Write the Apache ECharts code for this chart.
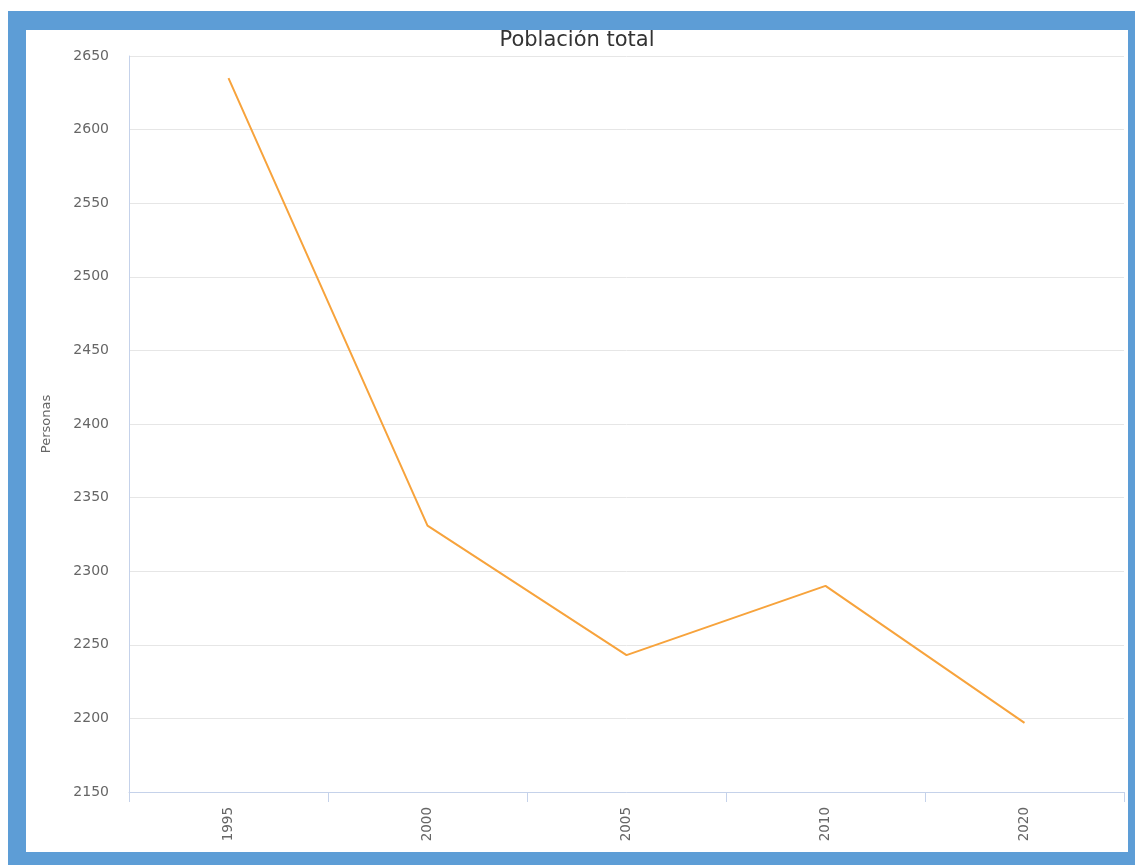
<!DOCTYPE html>
<html>
<head>
<meta charset="utf-8">
<script src="https://cdn.jsdelivr.net/npm/echarts@6/dist/echarts.min.js"></script>
<style>
  html, body { margin: 0; padding: 0; background: #fff; width: 1135px; height: 865px; overflow: hidden; }
  .frame {
    position: absolute; left: 8px; top: 11px; width: 1102px; height: 822px;
    border-style: solid; border-color: #5d9dd6;
    border-width: 19px 7px 13px 18px;
  }
  #chart { width: 1102px; height: 822px; background: #fff; }
</style>
</head>
<body>
<div class="frame"><div id="chart"></div></div>
<script>
// datos
var years = ["1995", "2000", "2005", "2010", "2020"];
var poblacion = [2635, 2331, 2243, 2290, 2197];

var chart = echarts.init(document.getElementById("chart"));
var option = {
  animation: false,
  textStyle: { fontFamily: "DejaVu Sans" },
  title: {
    text: "Población total",
    left: "center",
    top: 0,
    padding: 0,
    textStyle: { fontSize: 21, fontWeight: "normal", color: "#333" }
  },
  grid: { left: 103, right: 4, top: 26, bottom: 60 },
  xAxis: {
    type: "category",
    data: years,
    boundaryGap: true,
    axisLine: { lineStyle: { color: "#c5d2ea" } },
    axisTick: { show: true, interval: 0, length: 10, lineStyle: { color: "#c5d2ea" } },
    axisLabel: { rotate: 90, margin: 15, color: "#666", fontSize: 13.5 }
  },
  yAxis: {
    type: "value",
    min: 2150,
    max: 2650,
    interval: 50,
    name: "Personas",
    nameLocation: "middle",
    nameGap: 76,
    nameTextStyle: { color: "#666", fontSize: 13 },
    axisLine: { show: true, lineStyle: { color: "#c5d2ea" } },
    axisTick: { show: false },
    axisLabel: { margin: 20, color: "#666", fontSize: 14, formatter: function (v) { return String(v); } },
    splitLine: { lineStyle: { color: "#e6e6e6" } }
  },
  series: [
    {
      type: "line",
      data: poblacion,
      symbol: "none",
      lineStyle: { color: "#f7a33c", width: 2 }
    }
  ]
};
chart.setOption(option);
</script>
</body>
</html>
